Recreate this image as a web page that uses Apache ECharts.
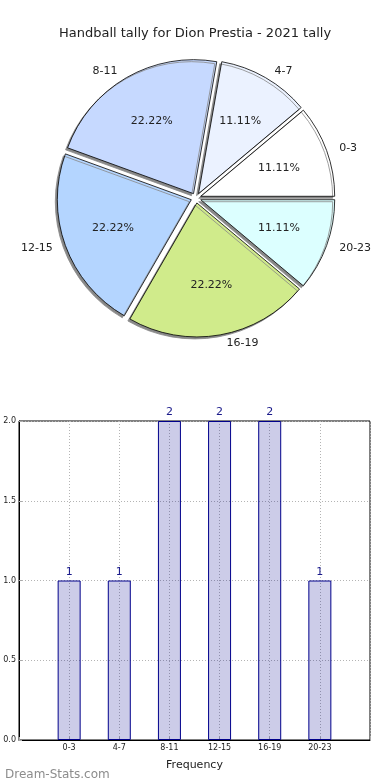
<!DOCTYPE html>
<html>
<head>
<meta charset="utf-8">
<script src="https://cdn.jsdelivr.net/npm/echarts@6/dist/echarts.min.js"></script>
<style>
html,body{margin:0;padding:0;background:#fff;}
#main{width:390px;height:780px;}
</style>
</head>
<body>
<div id="main"></div>
<script>
var titleText = 'Handball tally for Dion Prestia - 2021 tally';
var categories = ['0-3', '4-7', '8-11', '12-15', '16-19', '20-23'];
var counts = [1, 1, 2, 2, 2, 1];
var pieColors = ['#ffffff', '#ebf2ff', '#c6d9ff', '#b4d5ff', '#d0eb8b', '#dcffff'];
var yTicks = [0, 0.5, 1.0, 1.5, 2.0];

var F = 'DejaVu Sans';
var R = 134;
var CX = 196, CY = 198;
var total = counts.reduce(function (a, b) { return a + b; }, 0);

var pieData = categories.map(function (c, i) {
  return { name: c, value: counts[i], selected: true, itemStyle: { color: pieColors[i] } };
});
var pieLabelData = categories.map(function (c, i) {
  return { name: c, value: counts[i], selected: true };
});

var xData = [''].concat(categories).concat(['']);
var barData = [null].concat(counts).concat([null]);

var chart = echarts.init(document.getElementById('main'), null, { renderer: 'canvas' });
chart.setOption({
  animation: false,
  backgroundColor: '#ffffff',
  title: [
    { text: titleText, left: 'center', top: 22,
      textStyle: { fontFamily: F, fontSize: 13, fontWeight: 'normal', color: '#222' } },
    { text: 'Dream-Stats.com', left: 0, top: 764,
      textStyle: { fontFamily: F, fontSize: 12, fontWeight: 'normal', color: '#8c8c8c' } }
  ],
  grid: { left: 19, right: 20, top: 421, bottom: 40, show: true, borderColor: '#000', borderWidth: 1 },
  xAxis: {
    type: 'category',
    data: xData,
    boundaryGap: false,
    name: 'Frequency',
    nameLocation: 'middle',
    nameGap: 20,
    nameTextStyle: { fontFamily: F, fontSize: 11, color: '#222' },
    axisLine: { show: true, lineStyle: { color: '#000' } },
    axisTick: { show: true, inside: true, length: 3, lineStyle: { color: '#aaa' } },
    axisLabel: { fontFamily: F, fontSize: 8, color: '#222', margin: 4, interval: 0 },
    splitLine: { show: true, lineStyle: { color: '#b4b4b4', type: [1, 2], width: 1 } }
  },
  yAxis: {
    type: 'value',
    min: yTicks[0], max: yTicks[yTicks.length - 1], interval: 0.5,
    axisLine: { show: true, lineStyle: { color: '#000' } },
    axisTick: { show: true, inside: true, length: 3, lineStyle: { color: '#aaa' } },
    axisLabel: { fontFamily: F, fontSize: 8, color: '#222', margin: 3,
      formatter: function (v) { return v.toFixed(1); } },
    splitLine: { show: true, lineStyle: { color: '#b4b4b4', type: [1, 2], width: 1 } }
  },
  series: [
    {
      type: 'pie',
      center: [CX, CY],
      radius: [0, R],
      startAngle: 0,
      clockwise: false,
      selectedMode: 'multiple',
      selectedOffset: 5,
      avoidLabelOverlap: false,
      itemStyle: { borderColor: '#000', borderWidth: 0.8,
        shadowColor: '#888888', shadowBlur: 0, shadowOffsetX: -2, shadowOffsetY: 2 },
      label: { show: true, position: 'outside', fontFamily: F, fontSize: 11, color: '#222' },
      labelLine: { show: false, length: 8, length2: 0 },
      emphasis: { disabled: true },
      data: pieData
    },
    {
      type: 'pie',
      center: [CX, CY],
      radius: [0, R * 1.2],
      startAngle: 0,
      clockwise: false,
      selectedMode: 'multiple',
      selectedOffset: 5,
      silent: true,
      z: 3,
      avoidLabelOverlap: false,
      itemStyle: { color: 'rgba(0,0,0,0)', borderWidth: 0 },
      label: { show: true, position: 'inside', fontFamily: F, fontSize: 11, color: '#222',
        formatter: function (p) { return (p.value / total * 100).toFixed(2) + '%'; } },
      labelLine: { show: false },
      emphasis: { disabled: true },
      data: pieLabelData
    },
    {
      type: 'bar',
      data: barData,
      barWidth: 23,
      itemStyle: { color: 'rgba(0,0,139,0.2)', borderColor: '#00008b', borderWidth: 1 },
      label: { show: true, position: 'top', distance: 3, fontFamily: F, fontSize: 11, color: '#1a1a8a' },
      emphasis: { disabled: true }
    }
  ]
});
</script>
</body>
</html>
